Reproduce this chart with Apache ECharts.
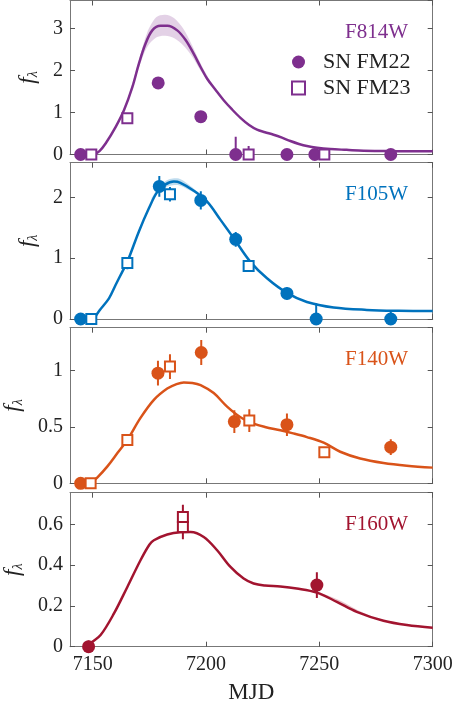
<!DOCTYPE html>
<html>
<head>
<meta charset="utf-8">
<script src="https://cdn.jsdelivr.net/npm/echarts@6/dist/echarts.min.js"></script>
<style>html,body{margin:0;padding:0;background:#fff}#c{width:454px;height:706px}</style>
</head>
<body>
<div id="c"></div>
<script>
// ---------------- data ----------------
const filters = ['F814W', 'F105W', 'F140W', 'F160W'];
const colors = ['#7E2F8E', '#0072BD', '#D95319', '#A2142F'];
const bandColors = ['rgba(126,47,142,0.22)', 'rgba(0,114,189,0.25)', 'rgba(217,83,25,0.25)', 'rgba(162,20,47,0.25)'];
const xTicks = [7150, 7200, 7250, 7300];
const yMax = [3.66, 2.57, 1.38, 0.755];
const yInterval = [1, 1, 0.5, 0.2];

// points: [MJD, f_lambda, error]
const fm22_F814W = [[7144.7,0,0],[7178.9,1.70,0.05],[7197.7,0.90,0.05],[7213.1,0,0.42],[7235.7,0,0.05],[7248.0,0,0.05],[7281.5,0,0.05]];
const fm23_F814W = [[7149.4,0,0],[7165.3,0.86,0.05],[7218.8,0,0.2],[7252.2,0,0.05]];
const fm22_F105W = [[7144.7,0,0],[7179.4,2.18,0.17],[7197.7,1.95,0.15],[7213.1,1.31,0.12],[7235.7,0.42,0.1],[7248.6,0,0.26],[7281.5,0,0.12]];
const fm23_F105W = [[7149.4,0,0],[7165.3,0.92,0.1],[7184.1,2.05,0.12],[7218.8,0.87,0.08]];
const fm22_F140W = [[7144.7,0,0],[7178.8,0.977,0.11],[7197.9,1.16,0.11],[7212.5,0.547,0.1],[7235.7,0.52,0.1],[7281.5,0.32,0.07]];
const fm23_F140W = [[7149.1,0,0],[7165.3,0.385,0.04],[7184.1,1.035,0.11],[7219.1,0.556,0.1],[7252.2,0.275,0.03]];
const fm22_F160W = [[7148.2,0,0.03],[7248.9,0.302,0.063]];
const fm23_F160W = [[7189.8,0.636,0.06],[7189.8,0.587,0.06]];

// model curves: [MJD, f_lambda]
const model_F814W = [[7150.5,0],[7153,0.08],[7155.7,0.26],[7160.1,0.65],[7163.8,1.05],[7167.5,1.60],[7170.4,2.16],[7173.3,2.63],[7176.3,2.95],[7179.9,3.06],[7183,3.06],[7187.3,2.95],[7191,2.72],[7194.6,2.39],[7197.6,2.08],[7200.5,1.80],[7204,1.55],[7207.8,1.29],[7211.5,1.07],[7215.2,0.87],[7219,0.70],[7222.5,0.59],[7226,0.53],[7229.8,0.47],[7233.5,0.40],[7237.2,0.32],[7241,0.25],[7244.5,0.20],[7249,0.16],[7254.8,0.13],[7262,0.11],[7269.5,0.09],[7284.2,0.08],[7300,0.075]];
const model_F105W = [[7150.5,0],[7153,0.14],[7157.2,0.34],[7160,0.55],[7163.1,0.78],[7165.3,0.94],[7170.4,1.44],[7174.8,1.82],[7178.5,2.09],[7182,2.21],[7185.8,2.26],[7188.7,2.24],[7194.6,2.11],[7200.5,1.93],[7206.4,1.63],[7212.2,1.33],[7219.6,0.94],[7226.9,0.67],[7235.7,0.43],[7244.5,0.28],[7256.3,0.19],[7270.9,0.15],[7285,0.135],[7300,0.13]];
const model_F140W = [[7149.1,0],[7152,0.05],[7156.5,0.15],[7161,0.27],[7165.3,0.385],[7171.1,0.58],[7177,0.74],[7182.9,0.84],[7187,0.88],[7190.2,0.895],[7194,0.89],[7197.6,0.87],[7203.4,0.80],[7209.3,0.68],[7215.2,0.586],[7221,0.53],[7226,0.50],[7232.8,0.47],[7238,0.445],[7244.5,0.41],[7251.9,0.36],[7259.2,0.28],[7268,0.22],[7278.3,0.18],[7288.6,0.156],[7300,0.139]];
const model_F160W = [[7148.5,0],[7149.1,0.017],[7153.5,0.057],[7159.4,0.163],[7165.3,0.293],[7171.1,0.424],[7175,0.50],[7177,0.522],[7182.9,0.55],[7188.7,0.561],[7193.2,0.562],[7199,0.538],[7204.9,0.473],[7210.8,0.391],[7216.6,0.334],[7221,0.31],[7226,0.30],[7232.8,0.295],[7240,0.285],[7248.9,0.265],[7257.7,0.22],[7266.5,0.171],[7278.3,0.127],[7288.6,0.106],[7300,0.093]];

// uncertainty bands: x, lower, upper
const bandX_F814W = [7166,7170,7174,7178,7182,7186,7190,7194,7198,7202,7206];
const bandLo_F814W = [1.36,2.00,2.55,2.78,2.82,2.76,2.59,2.32,1.96,1.66,1.40];
const bandHi_F814W = [1.40,2.16,2.89,3.26,3.32,3.24,2.99,2.58,2.12,1.74,1.42];
const bandX_F105W = [7176,7180,7184,7188,7192,7196,7200];
const bandLo_F105W = [1.95,2.11,2.19,2.20,2.13,2.05,1.94];
const bandHi_F105W = [1.99,2.20,2.30,2.31,2.22,2.10,1.96];
const bandX_F160W = [7248,7254,7260,7266,7272];
const bandLo_F160W = [0.267,0.24,0.21,0.174,0.148];
const bandHi_F160W = [0.272,0.25,0.222,0.185,0.152];

const fm22 = [fm22_F814W, fm22_F105W, fm22_F140W, fm22_F160W];
const fm23 = [fm23_F814W, fm23_F105W, fm23_F140W, fm23_F160W];
const models = [model_F814W, model_F105W, model_F140W, model_F160W];
const bands = [[bandX_F814W, bandLo_F814W, bandHi_F814W], [bandX_F105W, bandLo_F105W, bandHi_F105W], null, [bandX_F160W, bandLo_F160W, bandHi_F160W]];

// ---------------- layout ----------------
const FONT = '"Liberation Serif", "DejaVu Serif", serif';
const grids = [
  {left: 70, right: 21.3, top: 0.5, height: 154, outerBoundsMode: 'none', containLabel: false},
  {left: 70, right: 21.3, top: 162.7, height: 156.3, outerBoundsMode: 'none', containLabel: false},
  {left: 70, right: 21.3, top: 327.7, height: 155.6, outerBoundsMode: 'none', containLabel: false},
  {left: 70, right: 21.3, top: 492.7, height: 154, outerBoundsMode: 'none', containLabel: false}
];
const axisCol = '#777';
const tickCol = '#555';
const labelCol = '#222';
const plainNum = v => String(v);

const xAxes = [], yAxes = [], series = [], graphics = [];
for (let i = 0; i < 4; i++) {
  const last = i === 3;
  xAxes.push({
    type: 'value', gridIndex: i, min: 7140, max: 7300, position: 'bottom',
    axisLine: {show: true, onZero: false, lineStyle: {color: axisCol, width: 1}},
    axisTick: {show: true, inside: true, length: 5, lineStyle: {color: tickCol}, customValues: xTicks},
    axisLabel: {show: last, customValues: xTicks, formatter: plainNum, fontFamily: FONT, fontSize: 20, color: labelCol, margin: 8},
    splitLine: {show: false},
    name: last ? 'MJD' : '', nameLocation: 'middle', nameGap: 35,
    nameTextStyle: {fontFamily: FONT, fontSize: 23, color: labelCol}
  });
  xAxes.push({
    type: 'value', gridIndex: i, min: 7140, max: 7300, position: 'top',
    axisLine: {show: true, onZero: false, lineStyle: {color: axisCol, width: 1}},
    axisTick: {show: true, inside: true, length: 5, lineStyle: {color: tickCol}, customValues: xTicks},
    axisLabel: {show: false}, splitLine: {show: false}
  });
  yAxes.push({
    type: 'value', gridIndex: i, min: 0, max: yMax[i], interval: yInterval[i], position: 'left',
    axisLine: {show: true, onZero: false, lineStyle: {color: axisCol, width: 1}},
    axisTick: {show: true, inside: true, length: 5, lineStyle: {color: tickCol}},
    axisLabel: {fontFamily: FONT, fontSize: 20, color: labelCol, margin: 7, showMaxLabel: false},
    splitLine: {show: false},
    name: '{f|f}{s|λ}', nameLocation: 'middle', nameRotate: 90, nameGap: 26,
    nameTextStyle: {
      rich: {
        f: {fontFamily: FONT, fontStyle: 'italic', fontSize: 23, color: labelCol, lineHeight: 28},
        s: {fontFamily: FONT, fontStyle: 'italic', fontSize: 14, color: labelCol, lineHeight: 28, verticalAlign: 'bottom', padding: [0, 0, 2, 0]}
      }
    }
  });
  yAxes.push({
    type: 'value', gridIndex: i, min: 0, max: yMax[i], interval: yInterval[i], position: 'right',
    axisLine: {show: true, onZero: false, lineStyle: {color: axisCol, width: 1}},
    axisTick: {show: true, inside: true, length: 5, lineStyle: {color: tickCol}},
    axisLabel: {show: false}, splitLine: {show: false}
  });

  const xi = 2 * i, yi = 2 * i, col = colors[i];
  const b = bands[i];
  if (b) {
    const bx = b[0], lo = b[1], hi = b[2];
    series.push({
      type: 'custom', xAxisIndex: xi, yAxisIndex: yi, z: 1, silent: true,
      data: bx.map((x, k) => [x, lo[k], hi[k]]),
      encode: {x: 0, y: [1, 2]},
      renderItem: function (params, api) {
        if (params.dataIndex !== 0) return null;
        const pts = [];
        for (let k = 0; k < bx.length; k++) pts.push(api.coord([bx[k], hi[k]]));
        for (let k = bx.length - 1; k >= 0; k--) pts.push(api.coord([bx[k], lo[k]]));
        return {type: 'polygon', shape: {points: pts, smooth: 0.3}, style: {fill: bandColors[i]}};
      }
    });
  }
  series.push({
    type: 'line', name: filters[i] + ' model', xAxisIndex: xi, yAxisIndex: yi, z: 2,
    data: models[i], showSymbol: false, smooth: 0.35, silent: true,
    lineStyle: {color: col, width: 2.5}
  });
  const errRender = function (params, api) {
    const x = api.value(0), y = api.value(1), e = api.value(2);
    if (!e) return null;
    const p1 = api.coord([x, y - e]), p2 = api.coord([x, y + e]);
    return {type: 'line', shape: {x1: p1[0], y1: p1[1], x2: p2[0], y2: p2[1]}, style: {stroke: col, lineWidth: 2}};
  };
  series.push({type: 'custom', xAxisIndex: xi, yAxisIndex: yi, z: 3, clip: true, silent: true,
    data: fm22[i], encode: {x: 0, y: 1}, renderItem: errRender});
  series.push({type: 'custom', xAxisIndex: xi, yAxisIndex: yi, z: 3, clip: true, silent: true,
    data: fm23[i], encode: {x: 0, y: 1}, renderItem: errRender});
  series.push({
    type: 'scatter', name: 'SN FM22', xAxisIndex: xi, yAxisIndex: yi, z: 4, clip: false,
    data: fm22[i].map(p => [p[0], p[1]]), symbol: 'circle', symbolSize: 13,
    itemStyle: {color: col, opacity: 1}
  });
  series.push({
    type: 'scatter', name: 'SN FM23', xAxisIndex: xi, yAxisIndex: yi, z: 5, clip: false,
    data: fm23[i].map(p => [p[0], p[1]]), symbol: 'rect', symbolSize: 10,
    itemStyle: {color: '#fff', borderColor: col, borderWidth: 2, opacity: 1}
  });

  graphics.push({
    type: 'text', right: 46, top: grids[i].top + 21,
    style: {text: filters[i], fill: col, font: '21px ' + FONT}
  });
}

const chart = echarts.init(document.getElementById('c'), null, {renderer: 'canvas'});
chart.setOption({
  animation: false,
  backgroundColor: '#fff',
  grid: grids,
  xAxis: xAxes,
  yAxis: yAxes,
  series: series,
  graphic: graphics,
  legend: {
    orient: 'vertical', left: 286, top: 46, itemWidth: 13, itemHeight: 13, itemGap: 4,
    selectedMode: false,
    textStyle: {fontFamily: FONT, fontSize: 22, color: labelCol, padding: [0, 0, 0, 13]},
    data: [
      {name: 'SN FM22', icon: 'circle', itemStyle: {color: colors[0], borderWidth: 0}},
      {name: 'SN FM23', icon: 'rect', itemStyle: {color: '#fff', borderColor: colors[0], borderWidth: 2}}
    ]
  }
});
</script>
</body>
</html>
